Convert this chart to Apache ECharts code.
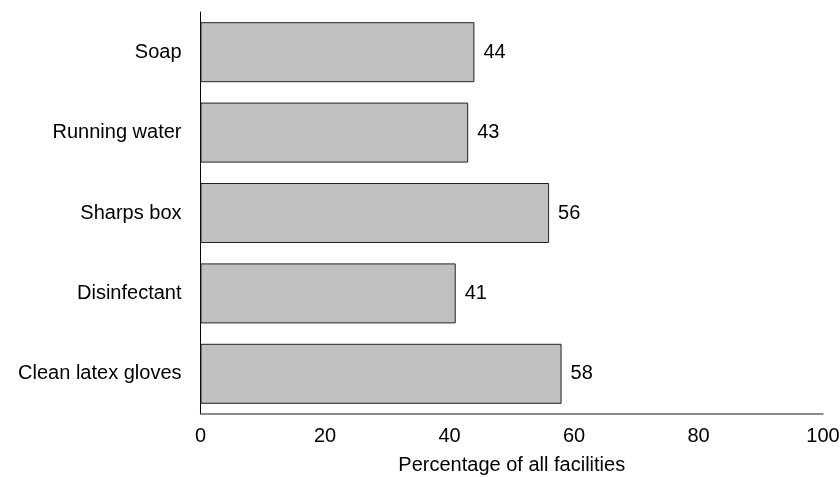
<!DOCTYPE html>
<html>
<head>
<meta charset="utf-8">
<script src="https://cdn.jsdelivr.net/npm/echarts@6/dist/echarts.min.js"></script>
<style>html,body{margin:0;padding:0;background:#fff}#c{width:840px;height:477px}</style>
</head>
<body>
<div id="c"></div>
<script>
const categories = ["Soap", "Running water", "Sharps box", "Disinfectant", "Clean latex gloves"];
const values = [44, 43, 56, 41, 58];
const xTicks = [0, 20, 40, 60, 80, 100];
const xAxisName = "Percentage of all facilities";

const FONT = '"Liberation Sans", Arial, sans-serif';
const chart = echarts.init(document.getElementById('c'), null, {renderer: 'canvas'});
chart.setOption({
  animation: false,
  backgroundColor: '#fff',
  grid: {left: 200.5, right: 17, top: 12, bottom: 63, containLabel: false, outerBoundsMode: 'none'},
  xAxis: {
    type: 'value', min: xTicks[0], max: xTicks[xTicks.length - 1], interval: 20,
    name: xAxisName, nameLocation: 'middle', nameGap: 41,
    nameTextStyle: {fontFamily: FONT, fontSize: 20, color: '#000'},
    axisLine: {show: true, lineStyle: {color: '#666', width: 1.5}},
    axisTick: {show: false},
    splitLine: {show: false},
    axisLabel: {fontFamily: FONT, fontSize: 20, color: '#000', margin: 12}
  },
  yAxis: {
    type: 'category', data: categories, inverse: true,
    axisLine: {show: true, lineStyle: {color: '#000', width: 1}},
    axisTick: {show: false},
    axisLabel: {fontFamily: FONT, fontSize: 20, color: '#000', margin: 19}
  },
  series: [{
    type: 'bar', data: values, barWidth: 60,
    itemStyle: {color: '#c0c0c0', borderColor: '#222', borderWidth: 1},
    label: {show: true, position: 'right', distance: 9, fontFamily: FONT, fontSize: 20, color: '#000'}
  }]
});
</script>
</body>
</html>
